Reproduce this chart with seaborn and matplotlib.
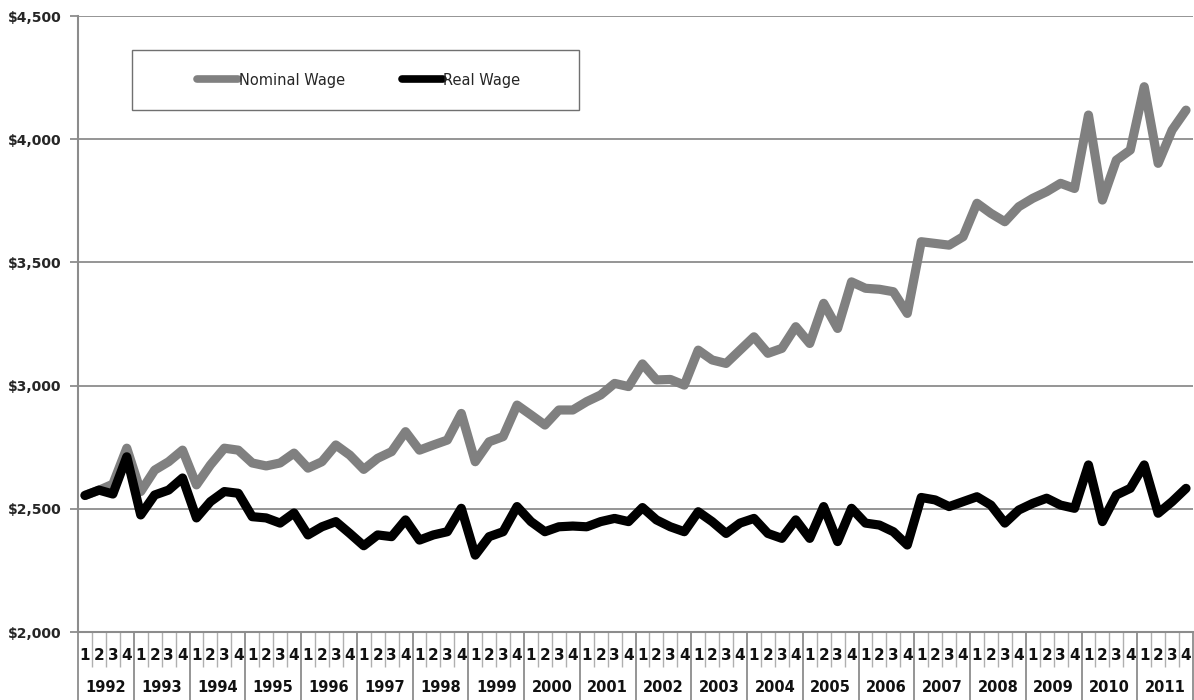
import matplotlib
matplotlib.use("Agg")
import matplotlib.pyplot as plt
import matplotlib.transforms as mtransforms
from matplotlib.patches import Rectangle
import numpy as np
import pandas as pd
import seaborn as sns

# Quarterly wages, 1992 Q1 through 2011 Q4
years = list(range(1992, 2012))
quarters = ["1", "2", "3", "4"]

nominal_wage = [
    2555, 2575, 2600, 2746, 2570, 2657, 2691, 2738,   # 1992-1993
    2597, 2678, 2746, 2738, 2686, 2674, 2686, 2726,   # 1994-1995
    2665, 2691, 2759, 2718, 2660, 2705, 2732, 2813,   # 1996-1997
    2738, 2759, 2779, 2887, 2691, 2772, 2793, 2921,   # 1998-1999
    2881, 2840, 2901, 2901, 2935, 2962, 3009, 2996,   # 2000-2001
    3088, 3023, 3025, 3002, 3144, 3104, 3090, 3144,   # 2002-2003
    3198, 3131, 3151, 3239, 3171, 3334, 3232, 3421,   # 2004-2005
    3395, 3391, 3381, 3293, 3584, 3577, 3570, 3604,   # 2006-2007
    3740, 3699, 3665, 3726, 3760, 3787, 3821, 3800,   # 2008-2009
    4098, 3753, 3915, 3956, 4213, 3902, 4037, 4118,   # 2010-2011
]

real_wage = [
    2554, 2576, 2560, 2711, 2475, 2556, 2576, 2625,   # 1992-1993
    2463, 2529, 2570, 2563, 2468, 2463, 2442, 2483,   # 1994-1995
    2394, 2427, 2448, 2400, 2350, 2394, 2387, 2455,   # 1996-1997
    2373, 2394, 2407, 2502, 2312, 2387, 2407, 2509,   # 1998-1999
    2448, 2407, 2427, 2430, 2427, 2448, 2461, 2448,   # 2000-2001
    2505, 2455, 2427, 2407, 2488, 2448, 2400, 2442,   # 2002-2003
    2461, 2400, 2380, 2455, 2380, 2509, 2367, 2502,   # 2004-2005
    2442, 2434, 2407, 2353, 2546, 2536, 2509, 2529,   # 2006-2007
    2549, 2515, 2442, 2495, 2522, 2543, 2515, 2502,   # 2008-2009
    2678, 2448, 2556, 2583, 2678, 2482, 2529, 2583,   # 2010-2011
]

y_ticks = [2000, 2500, 3000, 3500, 4000, 4500]
y_tick_labels = ["$2,000", "$2,500", "$3,000", "$3,500", "$4,000", "$4,500"]

n = len(nominal_wage)
period = np.arange(n)
df = pd.DataFrame({
    "period": np.concatenate([period, period]),
    "wage": nominal_wage + real_wage,
    "series": ["Nominal Wage"] * n + ["Real Wage"] * n,
})

sns.set_theme(style="white")
plt.rcParams["font.family"] = ["DejaVu Sans"]

W, H, DPI = 1194, 700, 100
fig = plt.figure(figsize=(W / DPI, H / DPI), dpi=DPI)
fig.patch.set_facecolor("white")
left_px, right_px, top_px, bottom_px = 78, 1193, 16, 632
ax = fig.add_axes([left_px / W, 1 - bottom_px / H,
                   (right_px - left_px) / W, (bottom_px - top_px) / H])

palette = {"Nominal Wage": "#808080", "Real Wage": "#000000"}
sns.lineplot(data=df, x="period", y="wage", hue="series", palette=palette,
             linewidth=6.6, ax=ax, legend=False, sort=False, zorder=3)
for line in ax.get_lines():
    line.set_solid_joinstyle("round")
    line.set_solid_capstyle("round")

grid_color = "#8c8c8c"
ax.set_xlim(-0.5, n - 0.5)
ax.set_ylim(2000, 4500)
ax.set_yticks(y_ticks)
ax.set_yticklabels(y_tick_labels, fontsize=10, fontweight="bold")
ax.yaxis.grid(True, color=grid_color, linewidth=1.3, zorder=0)
ax.xaxis.grid(False)
ax.tick_params(axis="y", which="major", left=True, length=6, width=1.3,
               color=grid_color, pad=6)
for side in ["top", "right"]:
    ax.spines[side].set_visible(False)
for side in ["left", "bottom"]:
    ax.spines[side].set_color(grid_color)
    ax.spines[side].set_linewidth(1.5)
ax.set_xlabel("")
ax.set_ylabel("")

# Category boundaries: quarter dividers short, year dividers long
bounds = np.arange(n + 1) - 0.5
ax.set_xticks(bounds[::4])
ax.set_xticklabels([])
ax.set_xticks(bounds, minor=True)
ax.tick_params(axis="x", which="major", bottom=True, length=49, width=1.3,
               color=grid_color)
ax.tick_params(axis="x", which="minor", bottom=True, length=25, width=1.0,
               color="#b0b0b0")

# Quarter and year labels under the axis
trans = mtransforms.blended_transform_factory(ax.transData, ax.transAxes)
q_y = -(655 - bottom_px) / (bottom_px - top_px)
yr_y = -(688 - bottom_px) / (bottom_px - top_px)
for i in range(n):
    ax.text(i, q_y, quarters[i % 4], transform=trans, ha="center",
            va="center", fontsize=11, fontweight="bold", color="#111111")
for k, yr in enumerate(years):
    ax.text(4 * k + 1.5, yr_y, str(yr), transform=trans, ha="center",
            va="center", fontsize=10.5, fontweight="bold", color="#111111")

# Legend in a framed box
box_l, box_r, box_t, box_b = 132, 579, 50, 110
fig.patches.append(Rectangle((box_l / W, 1 - box_b / H),
                             (box_r - box_l) / W, (box_b - box_t) / H,
                             transform=fig.transFigure, facecolor="white",
                             edgecolor="#707070", linewidth=1.0, zorder=5))
handles = [plt.Line2D([], [], color=palette[s], linewidth=5.5,
                      solid_capstyle="round") for s in palette]
leg = fig.legend(handles, list(palette), loc="center left",
                 bbox_to_anchor=(184 / W, 1 - (box_t + box_b) / 2 / H),
                 ncol=2, frameon=False, fontsize=10.5, handlelength=2.8,
                 handletextpad=0.05, columnspacing=3.9)
leg.set_zorder(6)

fig.savefig("out.png", dpi=DPI, facecolor="white")
